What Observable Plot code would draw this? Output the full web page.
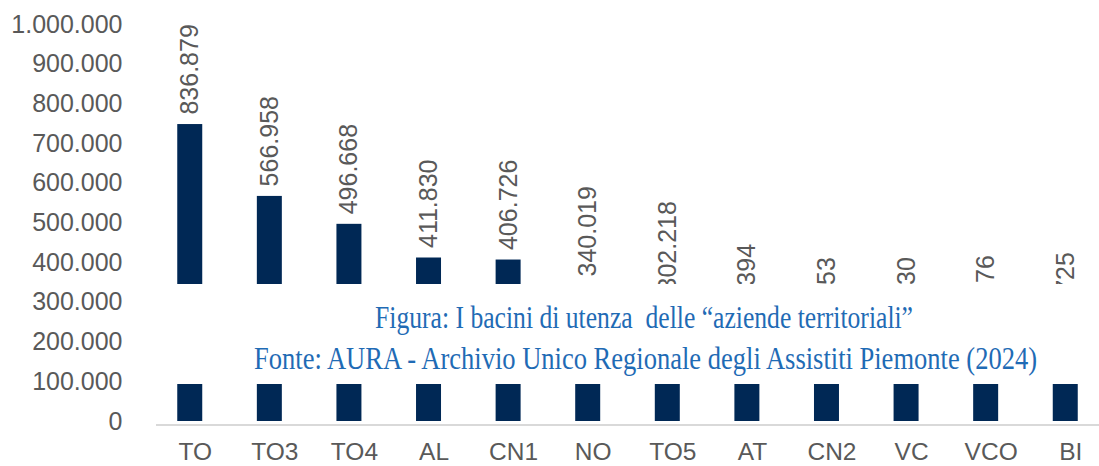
<!DOCTYPE html>
<html><head><meta charset="utf-8">
<script src="https://cdn.jsdelivr.net/npm/d3@7"></script>
<script src="https://cdn.jsdelivr.net/npm/@observablehq/plot@0.6"></script>
<style>
body{margin:0;background:#fff;}
#wrap{position:relative;width:1099px;height:466px;overflow:hidden;background:#fff;}
#cover{position:absolute;left:140px;top:284px;width:959px;height:100px;background:#fff;}
.cap{position:absolute;white-space:pre;font-family:"Liberation Serif","Times New Roman",serif;color:#1f6bb5;font-size:32px;line-height:32px;transform-origin:0 0;}
</style></head><body><div id="wrap"></div>
<script>
const categories = ["TO","TO3","TO4","AL","CN1","NO","TO5","AT","CN2","VC","VCO","BI"];
const values = [748000, 566958, 496668, 411830, 406726, 340019, 302218, 194394, 161353, 161130, 166276, 173725];
const valueLabels = ["836.879","566.958","496.668","411.830","406.726","340.019","302.218","194.394","161.353","161.130","166.276","173.725"];
const yTicks = [0,100000,200000,300000,400000,500000,600000,700000,800000,900000,1000000];
const captionLines = ["Figura: I bacini di utenza  delle \u201Caziende territoriali\u201D", "Fonte: AURA - Archivio Unico Regionale degli Assistiti Piemonte (2024)"];

const it = d3.formatLocale({decimal:",", thousands:".", grouping:[3], currency:["","€"]});
const fmt = it.format(",");
const data = categories.map((c,i)=>({cat:c, value:values[i], label:valueLabels[i]}));

const chart = Plot.plot({
  width:1099, height:466, marginLeft:156, marginRight:0, marginTop:24, marginBottom:45,
  style:{fontFamily:"'Liberation Sans', Arial, sans-serif", fontSize:"24px", color:"#595959", background:"#fff"},
  x:{domain:categories, paddingInner:0.686, paddingOuter:0.267, round:false},
  y:{domain:[0,1000000]},
  marks:[
    Plot.barY(data,{x:"cat", y:"value", fill:"#002855"}),
    Plot.ruleY([0],{stroke:"#d9d9d9", strokeWidth:2, dy:3.5}),
    Plot.text(data,{x:"cat", y:"value", text:"label", rotate:-90, textAnchor:"start", lineAnchor:"middle", dy:-10, fill:"#595959", fontSize:25}),
    Plot.axisY({ticks:yTicks, tickFormat:fmt, tickSize:0, tickPadding:34, label:null, fontSize:25, fill:"#595959"}),
    Plot.axisX({tickSize:0, tickPadding:21, dx:5, label:null, fontSize:24.5, fill:"#595959"})
  ]
});
const wrap = document.getElementById("wrap");
wrap.appendChild(chart);
const cover = document.createElement("div");
cover.id = "cover";
wrap.appendChild(cover);
const capPos = [{left:235, top:17, w:538}, {left:114, top:58, w:783}];
captionLines.forEach((t,i)=>{
  const d = document.createElement("div");
  d.className = "cap";
  d.textContent = t;
  d.style.left = capPos[i].left + "px";
  d.style.top = capPos[i].top + "px";
  cover.appendChild(d);
  const w = d.getBoundingClientRect().width;
  d.style.transform = `scaleX(${capPos[i].w / w})`;
});
</script></body></html>
